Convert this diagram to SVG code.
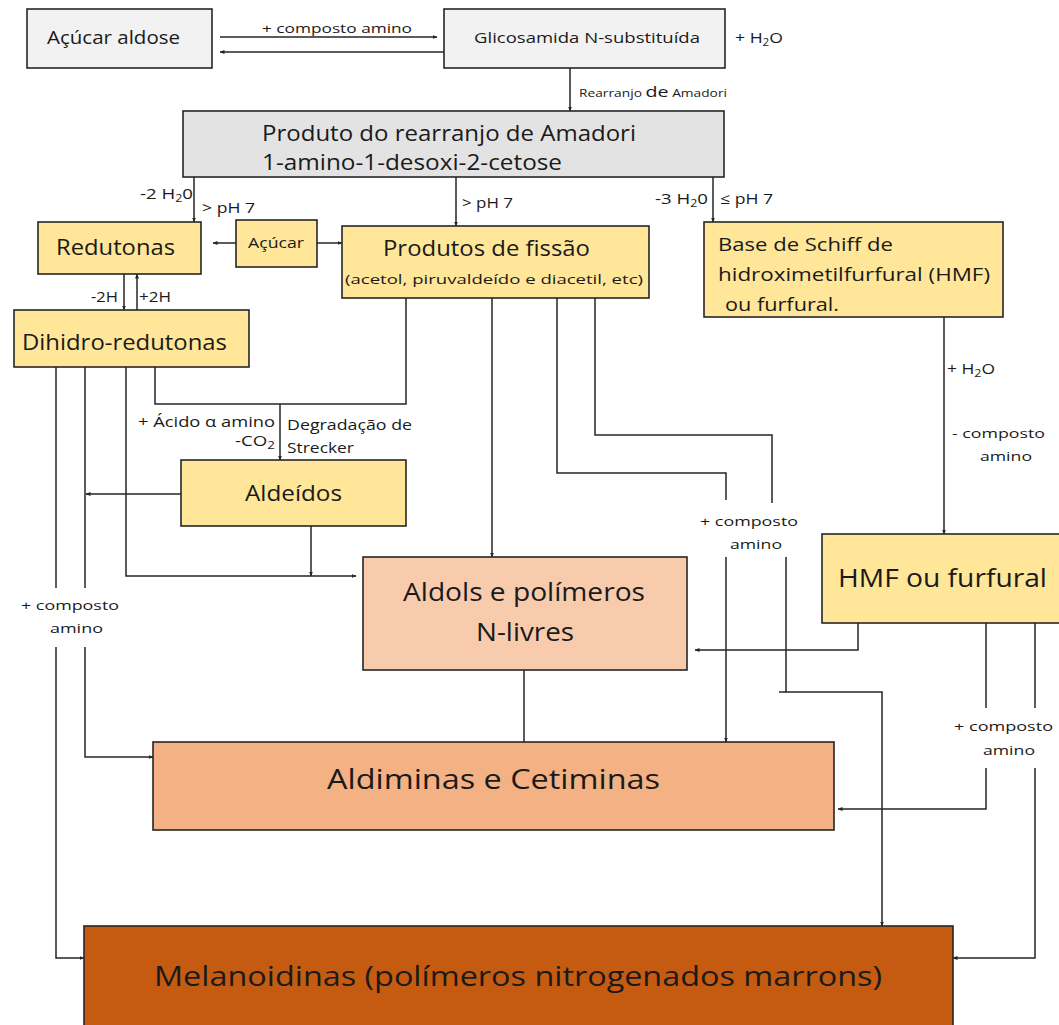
<svg xmlns="http://www.w3.org/2000/svg" width="1059" height="1025" viewBox="0 0 1059 1025">
<defs>
<style>
text{font-family:"Open Sans","Liberation Sans",sans-serif;fill:#1a1a1a}
.box{stroke:#262626;stroke-width:1.6}
.gray{fill:#f2f2f2}.gray2{fill:#e3e3e3}.yel{fill:#ffe699}.pk{fill:#f8cbad}.or{fill:#f4b183}.br{fill:#c55a11}
.c{fill:none;stroke:#262626;stroke-width:1.5}
.a{marker-end:url(#ah)}
.mid{text-anchor:middle}.end{text-anchor:end}
</style>
<marker id="ah" viewBox="0 0 10 10" refX="9" refY="5" markerWidth="5" markerHeight="5" markerUnits="userSpaceOnUse" orient="auto"><path d="M0,1 L10,5 L0,9 z" fill="#262626"/></marker>
</defs>
<rect width="1059" height="1025" fill="#fff"/>
<g id="connectors">
<path class="c a" d="M220,37 H437"/>
<path class="c a" d="M444,52 H220"/>
<path class="c a" d="M570,67 V111"/>
<path class="c a" d="M194,177 V222"/>
<path class="c a" d="M456,177 V226"/>
<path class="c a" d="M713,177 V222"/>
<path class="c a" d="M236,243 H213"/>
<path class="c a" d="M317,243 H342"/>
<path class="c a" d="M124,274 V310"/>
<path class="c a" d="M137,310 V274"/>
<path class="c" d="M155,367 V404 H406 V298"/>
<path class="c a" d="M280,404 V460"/>
<path class="c a" d="M492,298 V557"/>
<path class="c" d="M557,298 V473 H726 V500"/>
<path class="c" d="M595,298 V435 H772 V503"/>
<path class="c a" d="M726,557 V742"/>
<path class="c a" d="M786,557 V692 H882 V926"/>
<path class="c" d="M779,692 H786"/>
<path class="c a" d="M944,317 V534"/>
<path class="c a" d="M858,623 V650 H695"/>
<path class="c" d="M986,623 V708"/>
<path class="c a" d="M986,768 V809 H838"/>
<path class="c" d="M1035,623 V708"/>
<path class="c a" d="M1035,768 V958 H953"/>
<path class="c" d="M524,670 V742"/>
<path class="c a" d="M181,494 H86"/>
<path class="c a" d="M311,526 V576"/>
<path class="c a" d="M126,367 V576 H356"/>
<path class="c" d="M56,367 V588"/>
<path class="c a" d="M56,647 V958 H84"/>
<path class="c" d="M85,367 V588"/>
<path class="c a" d="M85,647 V757 H153"/>
</g>
<g id="labels">
<text x="262" y="33" font-size="13.5" textLength="150" lengthAdjust="spacingAndGlyphs">+ composto amino</text>
<text x="735" y="43" font-size="15" textLength="48" lengthAdjust="spacingAndGlyphs">+ H<tspan font-size="10" dy="3">2</tspan><tspan dy="-3">O</tspan></text>
<text x="579" y="97" font-size="10.5" textLength="148" lengthAdjust="spacingAndGlyphs">Rearranjo <tspan font-size="15">de</tspan> Amadori</text>
<text x="140" y="199" font-size="15" textLength="53" lengthAdjust="spacingAndGlyphs">-2 H<tspan font-size="10" dy="3">2</tspan><tspan dy="-3">0</tspan></text>
<text x="202" y="213" font-size="15" textLength="53" lengthAdjust="spacingAndGlyphs">&gt; pH 7</text>
<text x="462" y="208" font-size="15" textLength="51" lengthAdjust="spacingAndGlyphs">&gt; pH 7</text>
<text x="655" y="204" font-size="15" textLength="53" lengthAdjust="spacingAndGlyphs">-3 H<tspan font-size="10" dy="3">2</tspan><tspan dy="-3">0</tspan></text>
<text x="720" y="204" font-size="15" textLength="53" lengthAdjust="spacingAndGlyphs">≤ pH 7</text>
<text x="91" y="302" font-size="15" textLength="27" lengthAdjust="spacingAndGlyphs">-2H</text>
<text x="139" y="302" font-size="15" textLength="32" lengthAdjust="spacingAndGlyphs">+2H</text>
<text x="138" y="427" font-size="14" textLength="137" lengthAdjust="spacingAndGlyphs">+ Ácido α amino</text>
<text x="235" y="446" font-size="14" textLength="40" lengthAdjust="spacingAndGlyphs">-CO<tspan font-size="10" dy="3">2</tspan></text>
<text x="287" y="430" font-size="14" textLength="125" lengthAdjust="spacingAndGlyphs">Degradação de</text>
<text x="287" y="453" font-size="14" textLength="67" lengthAdjust="spacingAndGlyphs">Strecker</text>
<text x="700" y="526" font-size="13.5" textLength="98" lengthAdjust="spacingAndGlyphs">+ composto</text>
<text x="730" y="549" font-size="13.5" textLength="52" lengthAdjust="spacingAndGlyphs">amino</text>
<text x="947" y="374" font-size="14" textLength="48" lengthAdjust="spacingAndGlyphs">+ H<tspan font-size="10" dy="3">2</tspan><tspan dy="-3">O</tspan></text>
<text x="952" y="438" font-size="13.5" textLength="93" lengthAdjust="spacingAndGlyphs">- composto</text>
<text x="980" y="461" font-size="13.5" textLength="52" lengthAdjust="spacingAndGlyphs">amino</text>
<text x="21" y="610" font-size="13.5" textLength="98" lengthAdjust="spacingAndGlyphs">+ composto</text>
<text x="50" y="633" font-size="13.5" textLength="53" lengthAdjust="spacingAndGlyphs">amino</text>
<text x="954" y="731" font-size="13.5" textLength="99" lengthAdjust="spacingAndGlyphs">+ composto</text>
<text x="983" y="755" font-size="13.5" textLength="52" lengthAdjust="spacingAndGlyphs">amino</text>
</g>
<g id="acucar-aldose"><rect class="box gray" x="27" y="9" width="185" height="59"/><text x="47" y="44" font-size="19" textLength="133" lengthAdjust="spacingAndGlyphs">Açúcar aldose</text></g>
<g id="glicosamida"><rect class="box gray" x="444" y="9" width="281" height="59"/><text x="474" y="43" font-size="15" textLength="226" lengthAdjust="spacingAndGlyphs">Glicosamida N-substituída</text></g>
<g id="produto-amadori"><rect class="box gray2" x="183" y="111" width="541" height="66"/><text x="262" y="141" font-size="21" textLength="374" lengthAdjust="spacingAndGlyphs">Produto do rearranjo de Amadori</text><text x="262" y="170" font-size="21" textLength="300" lengthAdjust="spacingAndGlyphs">1-amino-1-desoxi-2-cetose</text></g>
<g id="redutonas"><rect class="box yel" x="38" y="222" width="163" height="52"/><text x="56" y="255" font-size="21" textLength="119" lengthAdjust="spacingAndGlyphs">Redutonas</text></g>
<g id="acucar"><rect class="box yel" x="236" y="220" width="81" height="47"/><text x="248" y="248" font-size="14" textLength="56" lengthAdjust="spacingAndGlyphs">Açúcar</text></g>
<g id="produtos-fissao"><rect class="box yel" x="342" y="226" width="307" height="72"/><text x="383" y="256" font-size="21" textLength="207" lengthAdjust="spacingAndGlyphs">Produtos de fissão</text><text x="345" y="284" font-size="13" textLength="298" lengthAdjust="spacingAndGlyphs">(acetol, piruvaldeído e diacetil, etc)</text></g>
<g id="base-schiff"><rect class="box yel" x="704" y="222" width="299" height="95"/><text x="718" y="251" font-size="19" textLength="175" lengthAdjust="spacingAndGlyphs">Base de Schiff de</text><text x="718" y="281" font-size="19" textLength="272" lengthAdjust="spacingAndGlyphs">hidroximetilfurfural (HMF)</text><text x="725" y="311" font-size="19" textLength="114" lengthAdjust="spacingAndGlyphs">ou furfural.</text></g>
<g id="dihidro-redutonas"><rect class="box yel" x="14" y="310" width="235" height="57"/><text x="22" y="350" font-size="21" textLength="205" lengthAdjust="spacingAndGlyphs">Dihidro-redutonas</text></g>
<g id="aldeidos"><rect class="box yel" x="181" y="460" width="225" height="66"/><text x="245" y="501" font-size="22" textLength="97" lengthAdjust="spacingAndGlyphs">Aldeídos</text></g>
<g id="aldols"><rect class="box pk" x="363" y="557" width="324" height="113"/><text x="403" y="601" font-size="25" textLength="242" lengthAdjust="spacingAndGlyphs">Aldols e polímeros</text><text x="476" y="641" font-size="25" textLength="98" lengthAdjust="spacingAndGlyphs">N-livres</text></g>
<g id="hmf"><rect class="box yel" x="822" y="534" width="245" height="89"/><text x="838" y="587" font-size="25" textLength="209" lengthAdjust="spacingAndGlyphs">HMF ou furfural</text></g>
<g id="aldiminas"><rect class="box or" x="153" y="742" width="681" height="88"/><text x="327" y="789" font-size="27" textLength="333" lengthAdjust="spacingAndGlyphs">Aldiminas e Cetiminas</text></g>
<g id="melanoidinas"><rect class="box br" x="84" y="926" width="869" height="110"/><text x="154" y="986" font-size="28" textLength="728" lengthAdjust="spacingAndGlyphs">Melanoidinas (polímeros nitrogenados marrons)</text></g>
</svg>
